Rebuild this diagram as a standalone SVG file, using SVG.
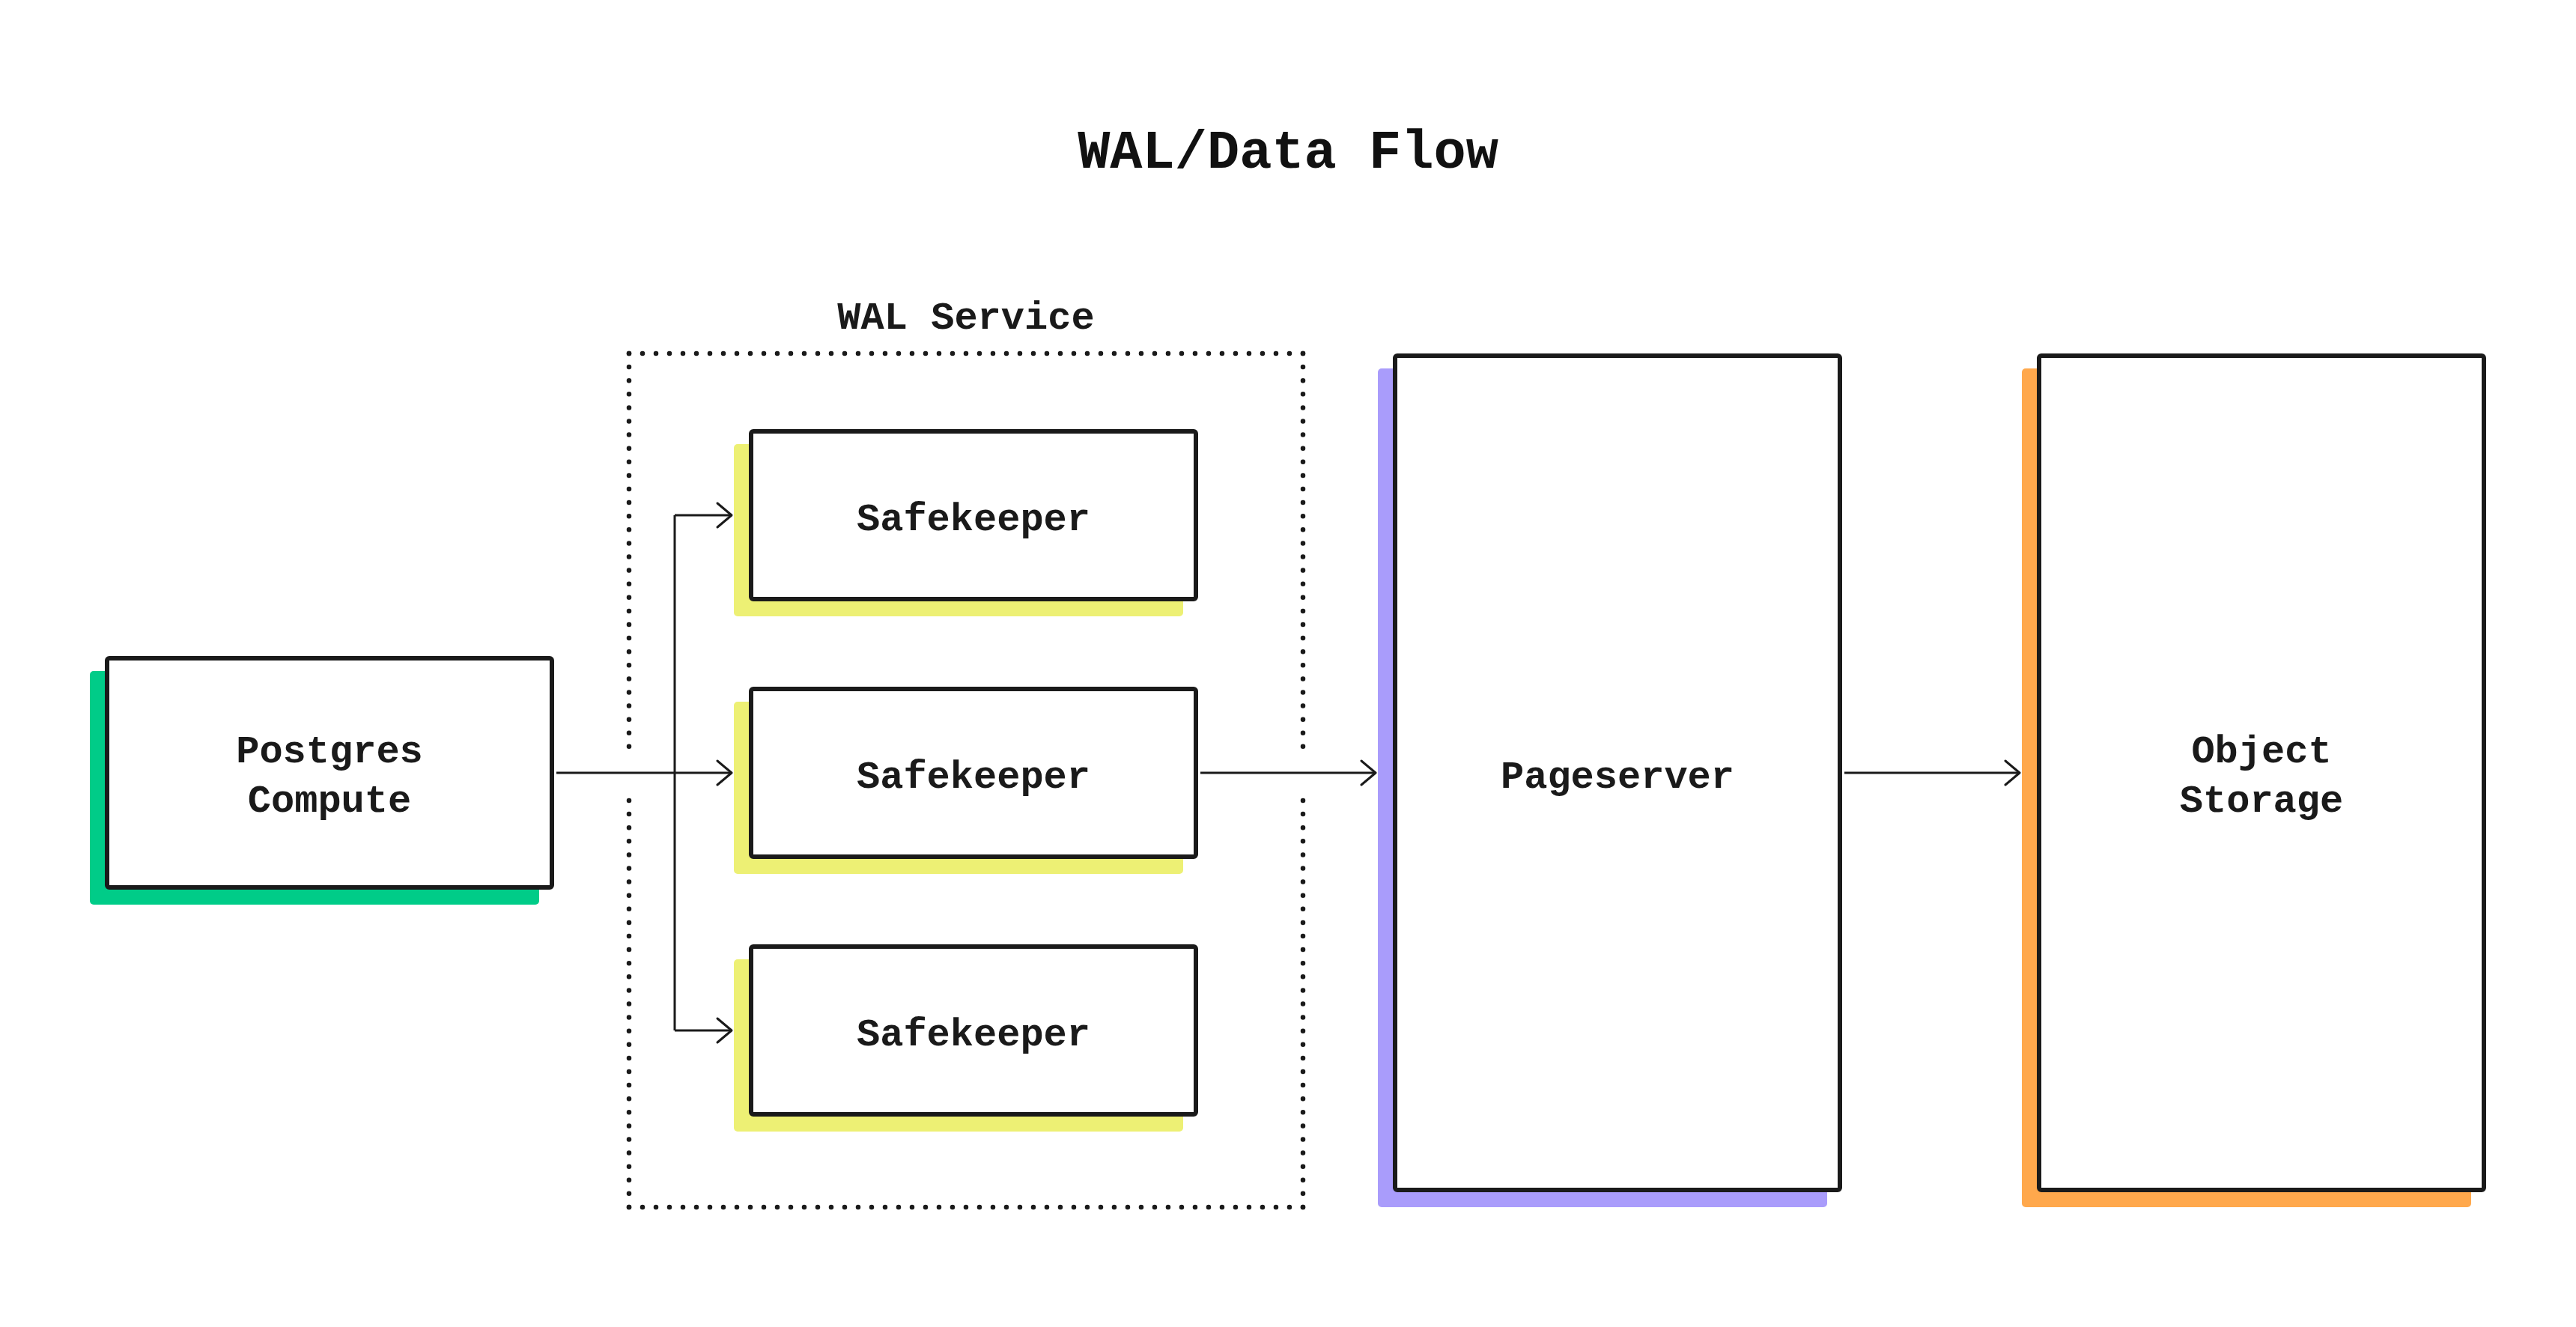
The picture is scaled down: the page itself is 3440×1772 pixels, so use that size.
<svg xmlns="http://www.w3.org/2000/svg" width="3440" height="1772" viewBox="0 0 3440 1772">
  <style>
    .box { fill: #ffffff; stroke: #1a1a1a; stroke-width: 6; }
    .lbl { font-family: "Liberation Mono", "DejaVu Sans Mono", monospace; font-weight: bold; font-size: 52px; fill: #1a1a1a; text-anchor: middle; }
    .title { font-family: "Liberation Mono", "DejaVu Sans Mono", monospace; font-weight: bold; font-size: 72px; fill: #111111; text-anchor: middle; }
    .conn { fill: none; stroke: #1a1a1a; stroke-width: 3; }
    .dots { fill: none; stroke: #1a1a1a; stroke-width: 6.5; stroke-linecap: round; }
  </style>
  <defs>
    <marker id="arrow" markerUnits="userSpaceOnUse" markerWidth="40" markerHeight="40" viewBox="-24 -20 28 40" refX="0" refY="0" orient="auto">
      <path d="M-19,-16 L0,0 L-19,16" fill="none" stroke="#1a1a1a" stroke-width="3" stroke-linejoin="round" stroke-linecap="round"/>
    </marker>
  </defs>
  <rect width="3440" height="1772" fill="#ffffff"/>

  <text class="title" x="1720" y="224">WAL/Data Flow</text>

  <g id="wal-service">
    <text class="lbl" x="1290" y="439">WAL Service</text>
    <path class="dots" stroke-dasharray="0 17.999" d="M840,472 H1740"/>
    <path class="dots" stroke-dasharray="0 17.999" d="M840,1612 H1740"/>
    <path class="dots" stroke-dasharray="0 18.099" d="M840,472 V997"/>
    <path class="dots" stroke-dasharray="0 18.099" d="M840,1069 V1612"/>
    <path class="dots" stroke-dasharray="0 18.099" d="M1740,472 V997"/>
    <path class="dots" stroke-dasharray="0 18.099" d="M1740,1069 V1612"/>
  </g>

  <g id="postgres-compute">
    <rect x="120" y="896" width="600" height="312" rx="5" fill="#00cc88"/>
    <rect class="box" x="143" y="879" width="594" height="306" rx="3"/>
    <text class="lbl" x="440" y="1018">Postgres</text>
    <text class="lbl" x="440" y="1084">Compute</text>
  </g>

  <g id="safekeeper-1">
    <rect x="980" y="593" width="600" height="230" rx="5" fill="#edf074"/>
    <rect class="box" x="1003" y="576" width="594" height="224" rx="3"/>
    <text class="lbl" x="1300" y="708">Safekeeper</text>
  </g>
  <g id="safekeeper-2">
    <rect x="980" y="937" width="600" height="230" rx="5" fill="#edf074"/>
    <rect class="box" x="1003" y="920" width="594" height="224" rx="3"/>
    <text class="lbl" x="1300" y="1052">Safekeeper</text>
  </g>
  <g id="safekeeper-3">
    <rect x="980" y="1281" width="600" height="230" rx="5" fill="#edf074"/>
    <rect class="box" x="1003" y="1264" width="594" height="224" rx="3"/>
    <text class="lbl" x="1300" y="1396">Safekeeper</text>
  </g>

  <g id="pageserver">
    <rect x="1840" y="492" width="600" height="1120" rx="5" fill="#a99cfb"/>
    <rect class="box" x="1863" y="475" width="594" height="1114" rx="3"/>
    <text class="lbl" x="2160" y="1052">Pageserver</text>
  </g>

  <g id="object-storage">
    <rect x="2700" y="492" width="600" height="1120" rx="5" fill="#ffa84c"/>
    <rect class="box" x="2723" y="475" width="594" height="1114" rx="3"/>
    <text class="lbl" x="3020" y="1018">Object</text>
    <text class="lbl" x="3020" y="1084">Storage</text>
  </g>

  <g id="connectors">
    <path class="conn" d="M743,1032 H977" marker-end="url(#arrow)"/>
    <path class="conn" d="M901,688 V1376"/>
    <path class="conn" d="M901,688 H977" marker-end="url(#arrow)"/>
    <path class="conn" d="M901,1376 H977" marker-end="url(#arrow)"/>
    <path class="conn" d="M1603,1032 H1837" marker-end="url(#arrow)"/>
    <path class="conn" d="M2463,1032 H2697" marker-end="url(#arrow)"/>
  </g>
</svg>
